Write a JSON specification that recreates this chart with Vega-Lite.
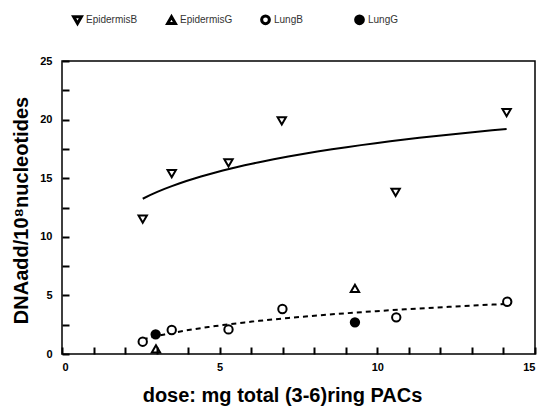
{
  "$schema": "https://vega.github.io/schema/vega-lite/v6.json",
  "width": 473,
  "height": 293,
  "autosize": {"type": "none"},
  "padding": {"left": 62, "top": 61, "right": 10, "bottom": 53},
  "background": "white",
  "config": {
    "view": {"stroke": "black", "strokeWidth": 1.5},
    "font": "Liberation Sans",
    "axis": {
      "grid": false,
      "domain": false,
      "ticks": true,
      "zindex": 1,
      "tickColor": "#000000",
      "tickWidth": 2,
      "tickSize": 7,
      "tickOpacity": 1,
      "labelFont": "Liberation Sans",
      "labelFontWeight": "bold",
      "labelFontSize": 11,
      "labelColor": "black",
      "titleFont": "Liberation Sans",
      "titleFontWeight": "bold",
      "titleFontSize": 20,
      "titleColor": "black"
    }
  },
  "data": {
    "values": [
      {"series": "EpidermisB", "dose": 2.56, "dna": 11.5},
      {"series": "EpidermisB", "dose": 3.48, "dna": 15.4},
      {"series": "EpidermisB", "dose": 5.28, "dna": 16.3},
      {"series": "EpidermisB", "dose": 6.97, "dna": 19.9},
      {"series": "EpidermisB", "dose": 10.58, "dna": 13.8},
      {"series": "EpidermisB", "dose": 14.1, "dna": 20.6},
      {"series": "EpidermisG", "dose": 2.98, "dna": 0.43},
      {"series": "EpidermisG", "dose": 9.29, "dna": 5.6},
      {"series": "LungB", "dose": 2.56, "dna": 1.05},
      {"series": "LungB", "dose": 3.48, "dna": 2.05},
      {"series": "LungB", "dose": 5.28, "dna": 2.1},
      {"series": "LungB", "dose": 6.99, "dna": 3.84},
      {"series": "LungB", "dose": 10.6, "dna": 3.13},
      {"series": "LungB", "dose": 14.12, "dna": 4.46},
      {"series": "LungG", "dose": 2.97, "dna": 1.68},
      {"series": "LungG", "dose": 9.29, "dna": 2.7}
    ]
  },
  "encoding": {
    "x": {
      "field": "dose", "type": "quantitative",
      "scale": {"domain": [0, 15], "nice": false, "zero": false},
      "axis": {
        "orient": "bottom", "offset": -7, "ticks": true, "tickSize": 7, "zindex": 1,
        "values": [0,1,2,3,4,5,6,7,8,9,10,11,12,13,14,15],
        "labelExpr": "datum.value % 5 === 0 ? datum.label : ''",
        "labelPadding": 7,
        "title": "dose: mg total (3-6)ring PACs",
        "titleX": 220, "titleY": 48, "titleBaseline": "middle", "titleAlign": "center"
      }
    },
    "y": {
      "field": "dna", "type": "quantitative",
      "scale": {"domain": [0, 25], "nice": false},
      "axis": {
        "orient": "left", "offset": -7, "ticks": true, "tickSize": 7, "zindex": 1,
        "values": [0,2.5,5,7.5,10,12.5,15,17.5,20,22.5,25],
        "labelExpr": "datum.value % 5 === 0 ? datum.label : ''",
        "labelPadding": 10,
        "title": "DNAadd/10⁸nucleotides",
        "titleAngle": -90, "titleX": -48, "titleY": 149,
        "titleBaseline": "middle", "titleAlign": "center"
      }
    }
  },
  "layer": [
    {
      "transform": [
        {"filter": "datum.series === 'EpidermisB'"},
        {"regression": "dna", "on": "dose", "method": "log"}
      ],
      "mark": {"type": "line", "color": "black", "strokeWidth": 2}
    },
    {
      "transform": [
        {"filter": "datum.series === 'LungB'"},
        {"regression": "dna", "on": "dose", "method": "log"}
      ],
      "mark": {"type": "line", "color": "black", "strokeWidth": 2, "strokeDash": [5, 4]}
    },
    {
      "mark": {"type": "point", "filled": true, "opacity": 1, "stroke": "black", "strokeWidth": 2, "size": 70},
      "encoding": {
        "shape": {
          "field": "series", "type": "nominal",
          "scale": {"domain": ["EpidermisB", "EpidermisG", "LungB", "LungG"], "range": ["triangle-down", "triangle-up", "circle", "circle"]},
          "legend": {
            "title": null, "orient": "none", "direction": "horizontal",
            "legendX": 10, "legendY": -47, "columns": 4, "gridAlign": "all",
            "columnPadding": 22, "symbolSize": 60, "symbolStrokeWidth": 3, "labelFontSize": 10, "labelColor": "#333",
            "labelFont": "Liberation Sans", "labelOffset": 3,
            "encode": {"symbols": {"update": {"stroke": {"value": "black"}, "strokeWidth": {"value": 3}}}}
          }
        },
        "fill": {
          "field": "series", "type": "nominal",
          "scale": {"domain": ["EpidermisB", "EpidermisG", "LungB", "LungG"], "range": ["white", "white", "white", "black"]},
          "legend": {
            "title": null, "orient": "none", "direction": "horizontal",
            "legendX": 10, "legendY": -47, "columns": 4, "gridAlign": "all",
            "columnPadding": 22, "symbolSize": 60, "symbolStrokeWidth": 3, "labelFontSize": 10, "labelColor": "#333",
            "labelFont": "Liberation Sans", "labelOffset": 3,
            "encode": {"symbols": {"update": {"stroke": {"value": "black"}, "strokeWidth": {"value": 3}}}}
          }
        }
      }
    }
  ]
}
